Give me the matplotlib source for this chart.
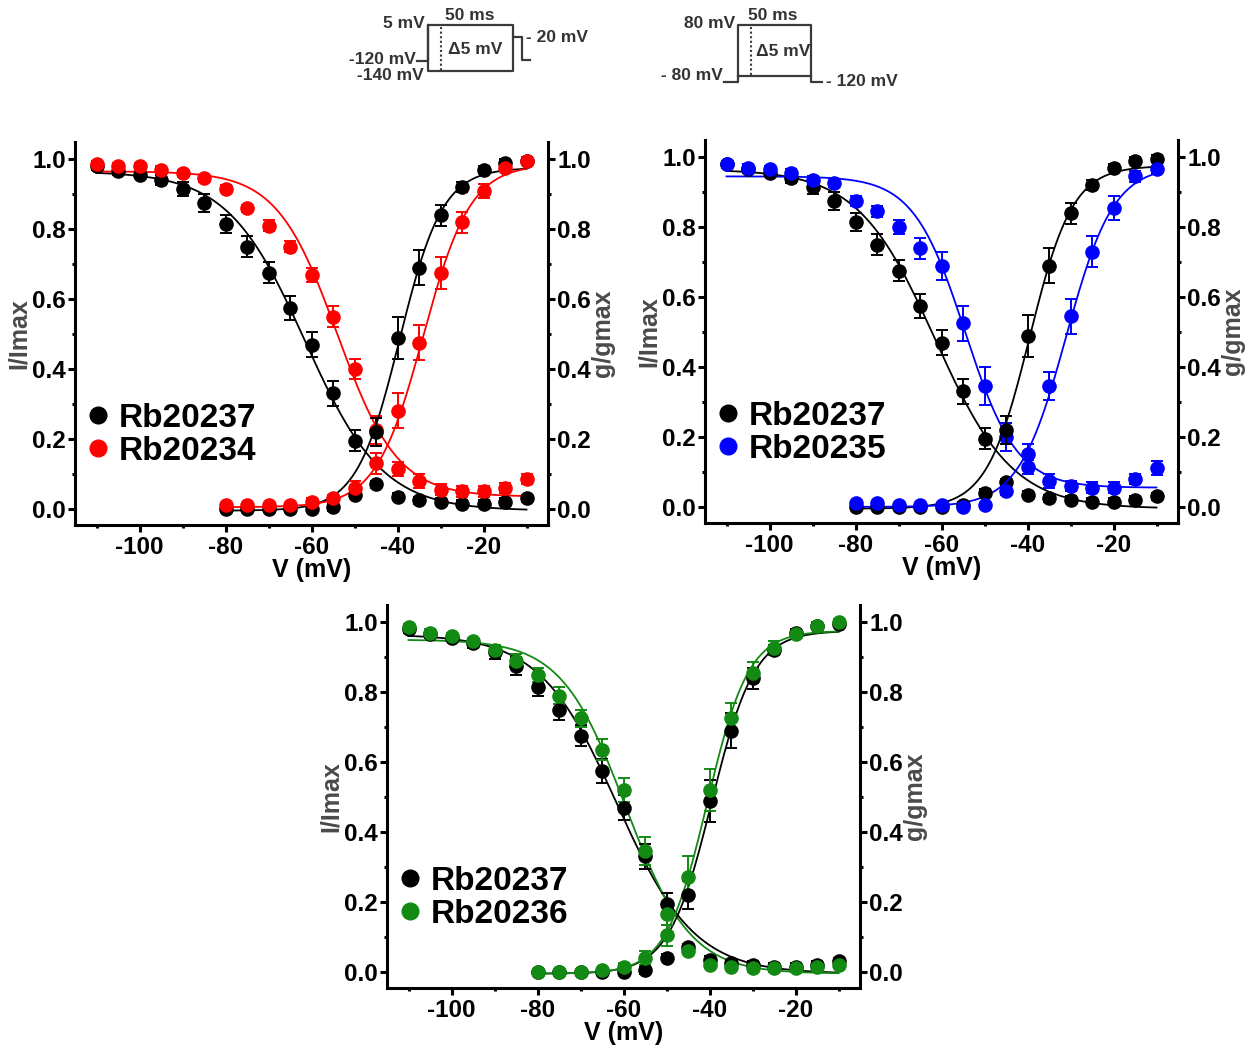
import numpy as np
import matplotlib
matplotlib.use("Agg")
import matplotlib.pyplot as plt

plt.rcParams["font.family"] = ["Liberation Sans", "DejaVu Sans"]
plt.rcParams["font.weight"] = "bold"

# ---- data ----
v_inact = [-110, -105, -100, -95, -90, -85, -80, -75, -70, -65, -60,
           -55, -50, -45, -40, -35, -30, -25, -20, -15, -10]
v_act = [-80, -75, -70, -65, -60, -55, -50, -45, -40, -35, -30, -25, -20, -15, -10]

# Rb20237 (control, black)
rb237_inact = [0.98, 0.965, 0.955, 0.94, 0.915, 0.875, 0.815, 0.75, 0.675, 0.575, 0.47,
               0.33, 0.195, 0.07, 0.035, 0.025, 0.02, 0.015, 0.015, 0.02, 0.03]
rb237_inact_err = [0.01, 0.01, 0.01, 0.015, 0.02, 0.025, 0.025, 0.03, 0.03, 0.035, 0.035,
                   0.035, 0.03, 0.01, 0.01, 0.01, 0.01, 0.01, 0.01, 0.01, 0.01]
rb237_act = [0.0, 0.0, 0.0, 0.0, 0.0, 0.005, 0.04, 0.22, 0.49, 0.69, 0.84, 0.92, 0.97, 0.99, 0.995]
rb237_act_err = [0.005, 0.005, 0.005, 0.005, 0.005, 0.01, 0.01, 0.04, 0.06, 0.05, 0.03, 0.015,
                 0.01, 0.01, 0.01]

# Rb20234 (red)
rb234_inact = [0.985, 0.98, 0.98, 0.97, 0.96, 0.945, 0.915, 0.86, 0.81, 0.75, 0.67,
               0.55, 0.40, 0.225, 0.115, 0.08, 0.055, 0.05, 0.05, 0.06, 0.085]
rb234_inact_err = [0.01, 0.01, 0.01, 0.01, 0.01, 0.01, 0.01, 0.01, 0.015, 0.015, 0.02,
                   0.03, 0.03, 0.04, 0.02, 0.02, 0.015, 0.015, 0.015, 0.015, 0.015]
rb234_act = [0.01, 0.01, 0.01, 0.01, 0.02, 0.03, 0.06, 0.13, 0.28, 0.475, 0.675, 0.82, 0.91, 0.975, 0.995]
rb234_act_err = [0.005, 0.005, 0.005, 0.005, 0.01, 0.01, 0.02, 0.03, 0.05, 0.05, 0.045, 0.03,
                 0.02, 0.01, 0.01]

# Rb20235 (blue)
rb235_inact = [0.98, 0.97, 0.965, 0.955, 0.935, 0.925, 0.875, 0.845, 0.80, 0.74, 0.69,
               0.525, 0.345, 0.20, 0.115, 0.075, 0.06, 0.055, 0.055, 0.08, 0.11]
rb235_inact_err = [0.01, 0.01, 0.01, 0.01, 0.01, 0.01, 0.015, 0.015, 0.02, 0.03, 0.04,
                   0.05, 0.055, 0.04, 0.02, 0.02, 0.015, 0.015, 0.015, 0.015, 0.02]
rb235_act = [0.01, 0.01, 0.005, 0.005, 0.005, 0.0, 0.005, 0.045, 0.15, 0.345, 0.545, 0.73, 0.855, 0.945, 0.965]
rb235_act_err = [0.005, 0.005, 0.005, 0.005, 0.005, 0.005, 0.005, 0.01, 0.03, 0.04, 0.05, 0.045,
                 0.035, 0.015, 0.01]

# Rb20236 (green)
rb236_inact = [0.985, 0.97, 0.96, 0.945, 0.92, 0.89, 0.85, 0.79, 0.725, 0.635, 0.52,
               0.345, 0.165, 0.06, 0.02, 0.015, 0.01, 0.01, 0.01, 0.015, 0.02]
rb236_inact_err = [0.01, 0.01, 0.01, 0.01, 0.015, 0.02, 0.02, 0.025, 0.025, 0.03, 0.035,
                   0.04, 0.03, 0.01, 0.01, 0.01, 0.01, 0.01, 0.01, 0.01, 0.01]
rb236_act = [0.0, 0.0, 0.0, 0.005, 0.015, 0.04, 0.105, 0.27, 0.52, 0.725, 0.855, 0.925, 0.965, 0.99, 1.0]
rb236_act_err = [0.005, 0.005, 0.005, 0.005, 0.01, 0.02, 0.03, 0.06, 0.06, 0.045, 0.03, 0.02,
                 0.01, 0.01, 0.01]

# Boltzmann fit parameters: top, bottom, V1/2, k
fit_inact = {"Rb20237": (0.965, -0.005, -61.5, 9.0),
             "Rb20234": (0.965, 0.035, -54.0, 7.0),
             "Rb20235": (0.945, 0.055, -54.5, 6.0),
             "Rb20236": (0.95, -0.005, -59.5, 7.5)}
fit_act = {"Rb20237": (0.975, -0.005, -39.5, 5.0),
           "Rb20234": (0.985, 0.005, -34.0, 5.5),
           "Rb20235": (0.975, 0.0, -31.0, 5.5),
           "Rb20236": (0.975, -0.005, -40.5, 4.8)}

series = {
    "Rb20237": (rb237_inact, rb237_inact_err, rb237_act, rb237_act_err, "black"),
    "Rb20234": (rb234_inact, rb234_inact_err, rb234_act, rb234_act_err, "#ff0000"),
    "Rb20235": (rb235_inact, rb235_inact_err, rb235_act, rb235_act_err, "#0000ff"),
    "Rb20236": (rb236_inact, rb236_inact_err, rb236_act, rb236_act_err, "#138a13"),
}

yticks = [0.0, 0.2, 0.4, 0.6, 0.8, 1.0]
xticks = [-100, -80, -60, -40, -20]

W, H = 1253, 1046
fig = plt.figure(figsize=(W / 100, H / 100), dpi=100)


def boltz_inact(v, p):
    top, bot, vh, k = p
    return bot + (top - bot) / (1 + np.exp((v - vh) / k))


def boltz_act(v, p):
    top, bot, vh, k = p
    return bot + (top - bot) / (1 + np.exp((vh - v) / k))


def style_axis(ax):
    ax.spines["top"].set_visible(False)
    for s in ["left", "right", "bottom"]:
        ax.spines[s].set_linewidth(2.2)
    ax.tick_params(which="major", length=5, width=2.2, labelsize=17.5, pad=1.5)
    ax.tick_params(which="minor", length=2.5, width=2.2)


def panel(rect, name):
    ax = fig.add_axes(rect)
    ax2 = ax.twinx()
    for a in (ax, ax2):
        a.set_xlim(-115, -5)
        a.set_ylim(-0.046, 1.049)
        style_axis(a)
        a.set_yticks(yticks)
        a.set_yticks(np.arange(0.1, 1.0, 0.2), minor=True)
        a.set_yticklabels([f"{t:.1f}" for t in yticks], fontweight="bold")
    ax.spines["right"].set_visible(False)
    ax2.spines["left"].set_visible(False)
    ax2.spines["bottom"].set_visible(False)
    ax.set_xticks(xticks)
    ax.set_xticks([-110, -90, -70, -50, -30, -10], minor=True)
    ax.set_xticklabels([str(t) for t in xticks], fontweight="bold")
    ax.tick_params(axis="x", pad=3)

    vfit_i = np.linspace(-110, -10, 200)
    vfit_a = np.linspace(-80, -10, 200)
    for nm in ["Rb20237", name]:
        inact, inact_err, act, act_err, col = series[nm]
        ax.plot(vfit_i, boltz_inact(vfit_i, fit_inact[nm]), color=col, lw=1.3, zorder=2)
        ax2.plot(vfit_a, boltz_act(vfit_a, fit_act[nm]), color=col, lw=1.3, zorder=2)
        ax.errorbar(v_inact, inact, yerr=inact_err, fmt="o", color=col, ms=9.5,
                    elinewidth=1.4, capsize=4.5, capthick=1.4, zorder=3)
        ax2.errorbar(v_act, act, yerr=act_err, fmt="o", color=col, ms=9.5,
                     elinewidth=1.4, capsize=4.5, capthick=1.4, zorder=3)

    ax.set_ylabel("I/Imax", fontsize=18, fontweight="bold", color="#4a4a4a")
    ax.yaxis.set_label_coords(-0.094, 0.5)
    ax2.set_ylabel("g/gmax", fontsize=18, fontweight="bold", color="#4a4a4a")
    ax2.yaxis.set_label_coords(1.09, 0.5)
    ax.set_xlabel("V (mV)", fontsize=18, fontweight="bold")
    ax.xaxis.set_label_coords(0.5, -0.085)

    leg_h = [plt.Line2D([], [], ls="none", marker="o", ms=12, color=series[n][4])
             for n in ["Rb20237", name]]
    ax.legend(leg_h, ["Rb20237", name], loc="center left", bbox_to_anchor=(0.0, 0.235),
              frameon=False, handlelength=0.6, handletextpad=0.3, labelspacing=0.05,
              borderaxespad=0.0, prop={"size": 24, "weight": "bold"})
    return ax


aw, ah = 473 / W, 383 / H
panel([75 / W, 1 - 525 / H, aw, ah], "Rb20234")
panel([705 / W, 1 - 523 / H, aw, ah], "Rb20235")
panel([387 / W, 1 - 988 / H, aw, ah], "Rb20236")

# ---- voltage protocol sketches (pixel coordinates) ----
ov = fig.add_axes([0, 0, 1, 1], zorder=-1)
ov.set_xlim(0, W)
ov.set_ylim(H, 0)
ov.axis("off")
lc = "#3a3a3a"
tkw = dict(fontsize=12.5, fontweight="bold", color="#333333", va="center")

# inactivation protocol
ov.plot([417, 428, 428, 513, 513, 522, 522, 530],
        [61, 61, 25, 25, 37, 37, 60, 60], color=lc, lw=1.6)
ov.plot([428, 428, 513, 513], [25, 71, 71, 37], color=lc, lw=1.6)
ov.plot([441, 441], [27, 70], color=lc, lw=1.5, ls=(0, (1, 1.2)))
ov.text(425, 24, "5 mV", ha="right", **tkw)
ov.text(470, 16, "50 ms", ha="center", **tkw)
ov.text(475, 49, "\u03945 mV", ha="center", **tkw)
ov.text(416, 59, "-120 mV", ha="right", **tkw)
ov.text(424, 76, "-140 mV", ha="right", **tkw)
ov.text(526, 37, "- 20 mV", ha="left", **tkw)

# activation protocol
ov.plot([724, 738, 738, 811, 811, 822], [82, 82, 25, 25, 82, 82], color=lc, lw=1.6)
ov.plot([738, 811], [76, 76], color=lc, lw=1.6)
ov.plot([751, 751], [27, 75], color=lc, lw=1.5, ls=(0, (1, 1.2)))
ov.text(735, 24, "80 mV", ha="right", **tkw)
ov.text(773, 16, "50 ms", ha="center", **tkw)
ov.text(783, 51, "\u03945 mV", ha="center", **tkw)
ov.text(723, 76, "- 80 mV", ha="right", **tkw)
ov.text(826, 82, "- 120 mV", ha="left", **tkw)

fig.savefig("out.png", dpi=100)
